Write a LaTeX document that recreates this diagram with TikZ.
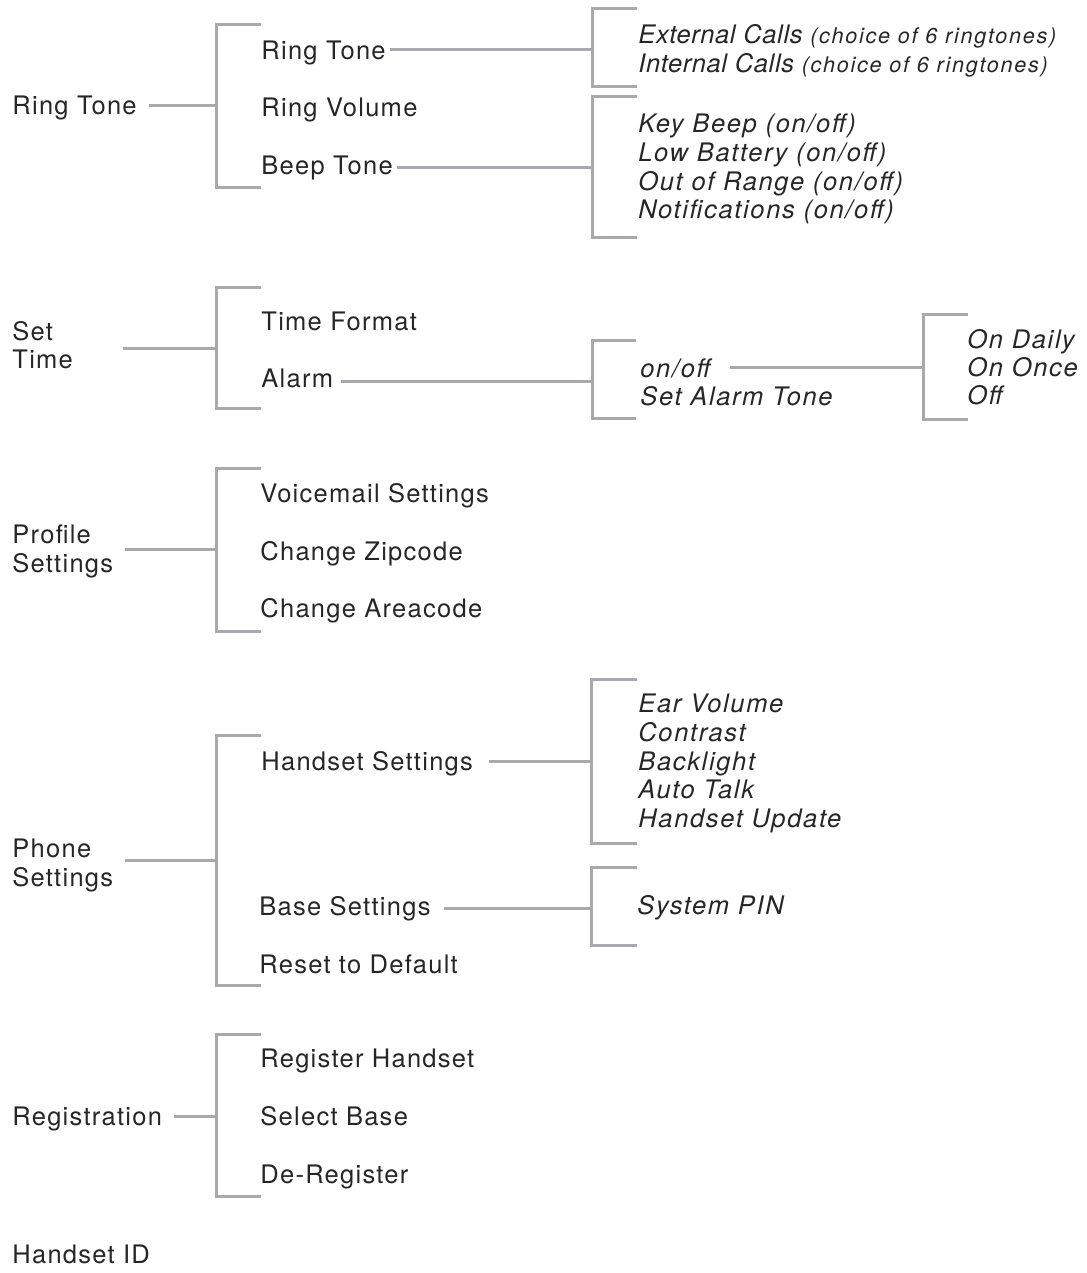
\documentclass[tikz,border=0pt]{standalone}
\usepackage{fontspec}
\setmainfont{TeX Gyre Heros}[LetterSpace=5]
\definecolor{txt}{HTML}{262626}
\definecolor{lncol}{HTML}{A7A9AC}
\newcommand\smallparen[1]{{\fontsize{10.8}{13}\selectfont\addfontfeature{LetterSpace=8}#1}}
\begin{document}
\begin{tikzpicture}[x=0.5pt,y=-0.5pt,
  lbl/.style={anchor=base west,inner sep=0pt,text=txt,font=\fontsize{12.75}{15}\selectfont},
  itl/.style={anchor=base west,inner sep=0pt,text=txt,font=\fontsize{12.75}{15}\selectfont\itshape\addfontfeature{LetterSpace=6.5}},
  itlnarrow/.style={itl,font=\fontsize{12.75}{15}\selectfont\itshape\addfontfeature{LetterSpace=2.5}},
  ln/.style={draw=lncol,line width=1.5pt}]
\useasboundingbox (0,0) rectangle (1086,1273);

% ---------- bracket junctions ----------
\coordinate (b1) at (216,106);
\coordinate (b1a) at (592,50);
\coordinate (b1b) at (592,168);
\coordinate (b2) at (216,348);
\coordinate (b2a) at (592,381);
\coordinate (b2b) at (923,367);
\coordinate (b3) at (216,549);
\coordinate (b4) at (216,860);
\coordinate (b4a) at (591,761);
\coordinate (b4b) at (591,908);
\coordinate (b5) at (216,1116);

% ---------- brackets ----------
\draw[ln] (261,25) -- (216,25) -- (216,188) -- (261,188);
\draw[ln] (637,9) -- (592,9) -- (592,87) -- (637,87);
\draw[ln] (637,97) -- (592,97) -- (592,238) -- (637,238);
\draw[ln] (261,287) -- (216,287) -- (216,408) -- (261,408);
\draw[ln] (636,340) -- (592,340) -- (592,418) -- (636,418);
\draw[ln] (968,314) -- (923,314) -- (923,419) -- (968,419);
\draw[ln] (261,468) -- (216,468) -- (216,631) -- (261,631);
\draw[ln] (261,735) -- (216,735) -- (216,985) -- (261,985);
\draw[ln] (637,679) -- (591,679) -- (591,843) -- (637,843);
\draw[ln] (637,867) -- (591,867) -- (591,945) -- (637,945);
\draw[ln] (261,1034) -- (216,1034) -- (216,1196) -- (261,1196);

% ---------- Ring Tone group ----------
\node[lbl] (g1) at (12,115) {Ring Tone};
\node[lbl] (r1) at (261,60) {Ring Tone};
\node[lbl] (r2) at (261,117) {Ring Volume};
\node[lbl] (r3) at (261,175) {Beep Tone};
\node[itlnarrow] (e1) at (638,44) {External Calls \smallparen{(choice of 6 ringtones)}};
\node[itlnarrow] (e2) at (638,73) {Internal Calls \smallparen{(choice of 6 ringtones)}};
\node[itl] (k1) at (638,133) {Key Beep (on/off)};
\node[itl] (k2) at (638,162) {Low Battery (on/off)};
\node[itl] (k3) at (638,191) {Out of Range (on/off)};
\node[itl] (k4) at (638,219) {Notifications (on/off)};

% ---------- Set Time group ----------
\node[lbl] (st1) at (12,340) {Set};
\node[lbl] (st2) at (12,368) {Time};
\node[lbl] (t1) at (261,330) {Time Format};
\node[lbl] (t2) at (261,387) {Alarm};
\node[itl] (a1) at (640,377) {on/off};
\node[itl] (a2) at (640,405) {Set Alarm Tone};
\node[itl] (o1) at (967,348) {On Daily};
\node[itl] (o2) at (967,376) {On Once};
\node[itl] (o3) at (967,404) {Off};

% ---------- Profile Settings group ----------
\node[lbl] (p1) at (12,543) {Profile};
\node[lbl] (p2) at (12,572) {Settings};
\node[lbl] (v1) at (260,502) {Voicemail Settings};
\node[lbl] (v2) at (260,560) {Change Zipcode};
\node[lbl] (v3) at (260,617) {Change Areacode};

% ---------- Phone Settings group ----------
\node[lbl] (ph1) at (12,857) {Phone};
\node[lbl] (ph2) at (12,886) {Settings};
\node[lbl] (h1) at (261,770) {Handset Settings};
\node[itl] (hs1) at (638,712) {Ear Volume};
\node[itl] (hs2) at (638,741) {Contrast};
\node[itl] (hs3) at (638,770) {Backlight};
\node[itl] (hs4) at (638,798) {Auto Talk};
\node[itl] (hs5) at (638,827) {Handset Update};
\node[lbl] (h2) at (259,915) {Base Settings};
\node[itl] (sp) at (637,914) {System PIN};
\node[lbl] (h3) at (259,973) {Reset to Default};

% ---------- Registration group ----------
\node[lbl] (rg) at (12,1125) {Registration};
\node[lbl] (rg1) at (260,1067) {Register Handset};
\node[lbl] (rg2) at (260,1125) {Select Base};
\node[lbl] (rg3) at (260,1183) {De-Register};

\node[lbl] (hid) at (12,1263) {Handset ID};

% ---------- connectors ----------
\draw[ln,shorten <=6pt] (g1.east |- b1) -- (b1);
\draw[ln,shorten <=2pt] (r1.east |- b1a) -- (b1a);
\draw[ln,shorten <=2pt] (r3.east |- b1b) -- (b1b);
\draw[ln,shorten <=25pt] (st2.east |- b2) -- (b2);
\draw[ln,shorten <=4pt] (t2.east |- b2a) -- (b2a);
\draw[ln,shorten <=9.5pt] (a1.east |- b2b) -- (b2b);
\draw[ln,shorten <=5.5pt] (p2.east |- b3) -- (b3);
\draw[ln,shorten <=5.5pt] (ph2.east |- b4) -- (b4);
\draw[ln,shorten <=8pt] (h1.east |- b4a) -- (b4a);
\draw[ln,shorten <=6.5pt] (h2.east |- b4b) -- (b4b);
\draw[ln,shorten <=6pt] (rg.east |- b5) -- (b5);
\end{tikzpicture}
\end{document}
